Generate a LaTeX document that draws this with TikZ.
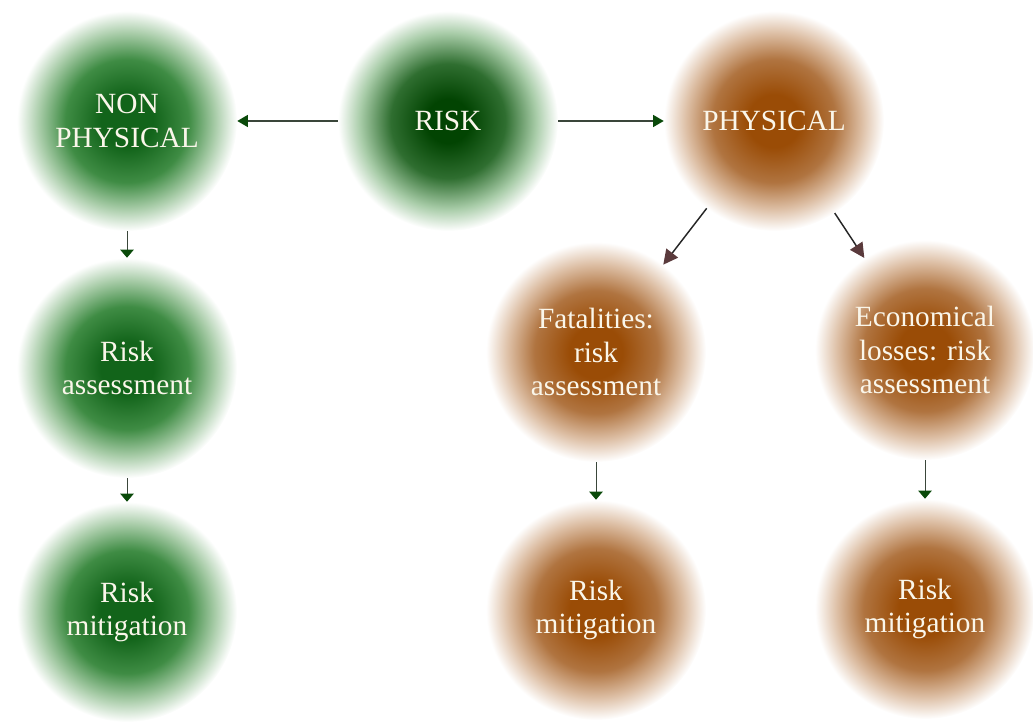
\documentclass[tikz,border=0pt]{standalone}
\usepackage{fontspec}
\setmainfont{Liberation Serif}
\usetikzlibrary{arrows.meta}
\definecolor{gcore}{HTML}{12641A}
\definecolor{gmid}{HTML}{3F8C44}
\definecolor{gout}{HTML}{A8CCA8}
\definecolor{rcore}{HTML}{024402}
\definecolor{rmid}{HTML}{2F6E30}
\definecolor{bcore}{HTML}{9A4C06}
\definecolor{bmid}{HTML}{B07440}
\definecolor{bout}{HTML}{DDBFA5}
\definecolor{txt}{HTML}{FAF6EA}
\definecolor{gtip}{HTML}{0A4A0A}
\definecolor{gline}{HTML}{3A463A}
\definecolor{btip}{HTML}{5A3A3C}
\pgfdeclareradialshading{greenball}{\pgfpoint{0bp}{0bp}}{color(0bp)=(gcore); color(6bp)=(gcore); color(14bp)=(gmid); color(20bp)=(gout); color(25bp)=(white); color(50bp)=(white)}
\pgfdeclareradialshading{riskball}{\pgfpoint{0bp}{0bp}}{color(0bp)=(rcore); color(5bp)=(rcore); color(13bp)=(rmid); color(20bp)=(gout); color(25bp)=(white); color(50bp)=(white)}
\pgfdeclareradialshading{brownball}{\pgfpoint{0bp}{0bp}}{color(0bp)=(bcore); color(6bp)=(bcore); color(14bp)=(bmid); color(20bp)=(bout); color(25bp)=(white); color(50bp)=(white)}
\tikzset{
  ball/.style={circle, minimum size=165pt, inner sep=0pt, align=center, text=txt,
    font=\fontsize{22}{25}\selectfont},
  gball/.style={ball, shading=greenball},
  rball/.style={ball, shading=riskball},
  bball/.style={ball, shading=brownball},
  harrow/.style={draw=gline, line width=1.2pt, -{Triangle[length=8pt,width=9pt,color=gtip]}},
  darrow/.style={draw=black!85, line width=1.1pt, -{Triangle[length=11pt,width=11pt,color=btip]}},
  varrow/.style={draw=gline, line width=0.7pt, -{Triangle[length=6pt,width=10pt,color=gtip]}}
}
\begin{document}
\begin{tikzpicture}[x=0.75pt,y=-0.75pt]
\useasboundingbox (0,0) rectangle (1033,723);
\node[gball] (np) at (127,121) {NON\\PHYSICAL};
\node[rball] (risk) at (448,121) {RISK};
\node[bball] (phys) at (774,121) {PHYSICAL};
\node[gball] (ra) at (127,368) {Risk\\assessment};
\node[gball] (rm) at (127,612) {Risk\\mitigation};
\node[bball] (fat) at (596,352) {Fatalities:\\risk\\assessment};
\node[bball] (eco) at (925,350) {Economical\\losses: risk\\assessment};
\node[bball] (fm) at (596,610) {Risk\\mitigation};
\node[bball] (em) at (925,609) {Risk\\mitigation};
\draw[harrow] (risk) -- (np);
\draw[harrow] (risk) -- (phys);
\draw[darrow] (phys) -- (fat);
\draw[darrow] (phys) -- (eco);
\draw[varrow] (np) -- (ra);
\draw[varrow] (ra) -- (rm);
\draw[varrow] (fat) -- (fm);
\draw[varrow] (eco) -- (em);
\end{tikzpicture}
\end{document}
